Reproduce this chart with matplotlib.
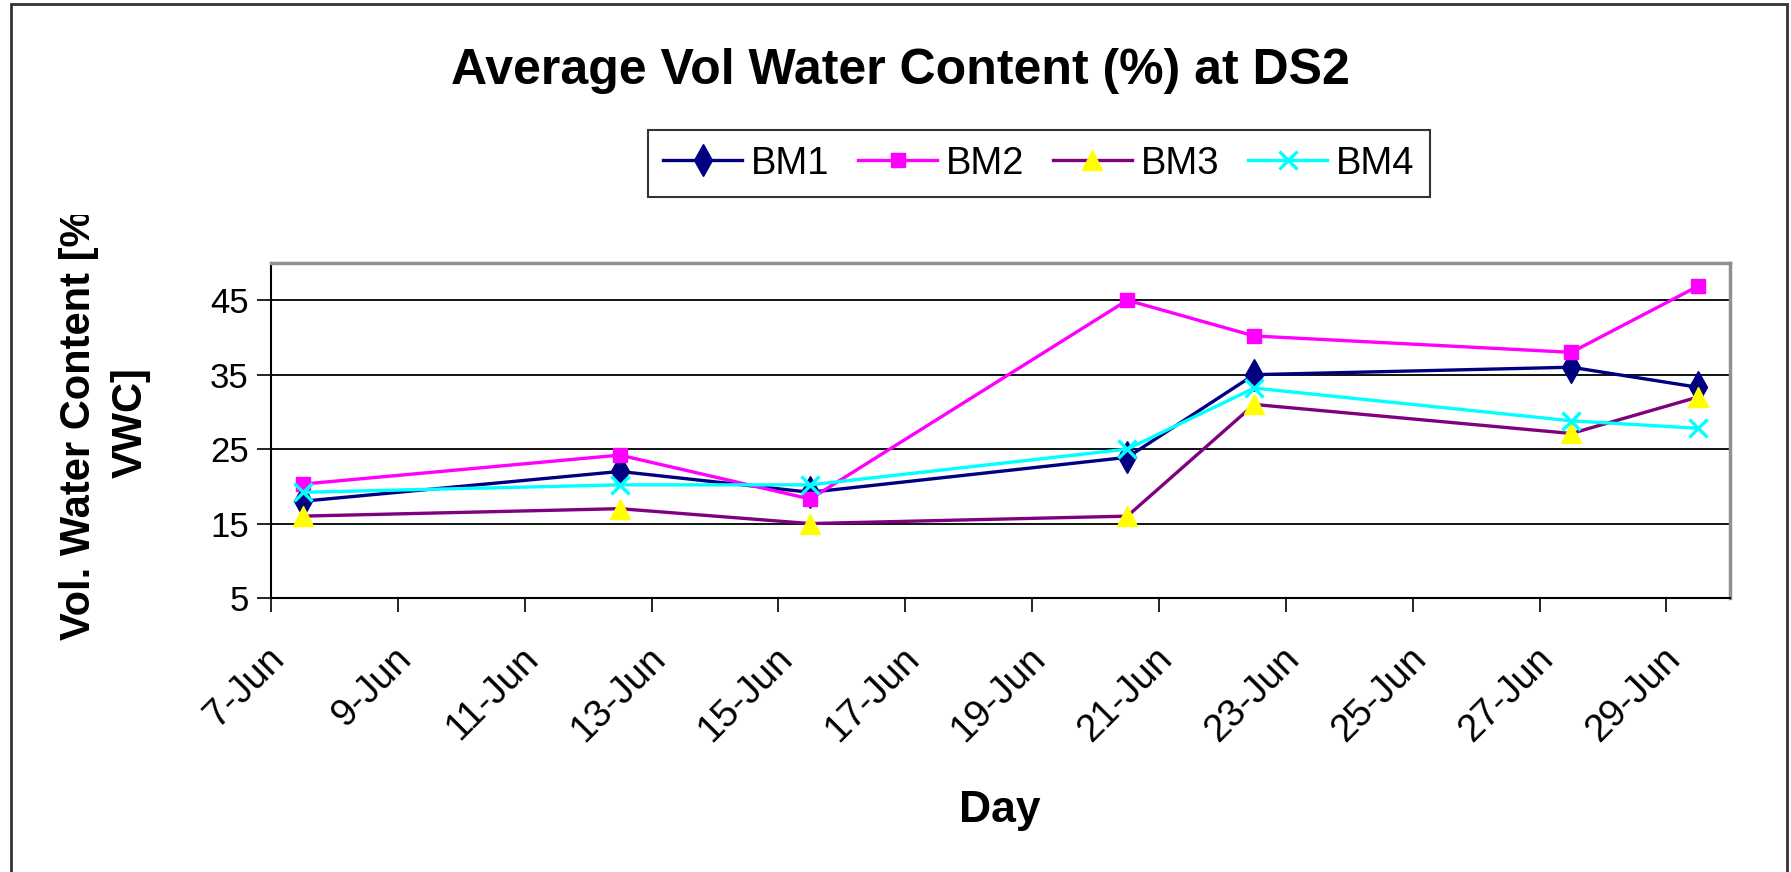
"""Average volumetric water content at DS2 — Excel-style line chart."""
import matplotlib
matplotlib.use("Agg")
import matplotlib.pyplot as plt
import matplotlib.dates as mdates
import numpy as np
from matplotlib.patches import Rectangle
from matplotlib.transforms import Bbox, ScaledTranslation

plt.rcParams["font.family"] = ["Liberation Sans", "DejaVu Sans"]

# data ----------------------------------------------------------------------
days = np.array(["2006-06-07", "2006-06-12", "2006-06-15", "2006-06-20",
                 "2006-06-22", "2006-06-27", "2006-06-29"], dtype="datetime64[D]")
bm1 = [18, 22, 19.2, 23.9, 35, 36, 33.3]
bm2 = [20.3, 24.2, 18.3, 45, 40.2, 38, 46.9]
bm3 = [16, 17, 15, 16, 31, 27.1, 32]
bm4 = [19.2, 20.2, 20.2, 25, 33.2, 28.8, 27.8]
tick_days = np.arange(np.datetime64("2006-06-07"), np.datetime64("2006-06-30"), 2)

# Excel date axis puts points in the middle of each day slot
x = mdates.date2num(days.astype("datetime64[s]")) + 0.5

fig = plt.figure(figsize=(17.91, 8.72), dpi=100)
ax = fig.add_axes([0.1513, 0.3142, 0.8146, 0.3842])

ax.plot(x, bm1, color="#000080", lw=2.4, marker="d", ms=16, mfc="#000080",
        mec="#000080", label="BM1")
ax.plot(x, bm2, color="#FF00FF", lw=2.4, marker="s", ms=10, mfc="#FF00FF",
        mec="#FF00FF", label="BM2")
ax.plot(x, bm3, color="#800080", lw=2.4, marker="^", ms=14, mfc="#FFFF00",
        mec="#FFFF00", label="BM3")
ax.plot(x, bm4, color="#00FFFF", lw=2.4, marker="x", ms=13, mew=2.4,
        label="BM4")

ax.set_xlim(mdates.date2num(np.datetime64("2006-06-07", "s")),
            mdates.date2num(np.datetime64("2006-06-30", "s")))
ax.set_ylim(5, 50)
ax.set_yticks([5, 15, 25, 35, 45])
ax.set_xticks(mdates.date2num(tick_days.astype("datetime64[s]")))
ax.xaxis.set_major_formatter(mdates.DateFormatter("%-d-%b"))

ax.grid(axis="y", color="black", lw=1.3)
ax.set_axisbelow(True)
ax.tick_params(axis="both", direction="out", length=10, width=1.2,
               labelsize=25, colors="black")
ax.tick_params(axis="y", pad=6)
ax.tick_params(axis="x", labelsize=27.5, pad=30)
shift = ScaledTranslation(0.08, 0, fig.dpi_scale_trans)
for lab in ax.get_xticklabels():
    lab.set_rotation(45)
    lab.set_rotation_mode("anchor")
    lab.set_ha("right")
    lab.set_va("center")
    lab.set_transform(lab.get_transform() + shift)

for side in ("top", "right"):
    ax.spines[side].set_color("#909090")
    ax.spines[side].set_linewidth(2.5)
for side in ("left", "bottom"):
    ax.spines[side].set_color("black")
    ax.spines[side].set_linewidth(1.5)

fig.text(0.5025, 0.919, "Average Vol Water Content (%) at DS2",
         ha="center", va="center", fontsize=36, fontweight="bold")
fig.text(0.558, 0.071, "Day", ha="center", va="center",
         fontsize=32, fontweight="bold")

# y label: two lines, the first one clipped at the top like in the original
ylab1 = fig.text(0.0441, 0.266, "Vol. Water Content [%", rotation=90,
                 rotation_mode="anchor", ha="left", va="center",
                 fontsize=30, fontweight="bold")
ylab1.set_clip_box(Bbox.from_extents(0, 0, 1791, 872 - 215))
ylab1.set_clip_on(True)
fig.text(0.0731, 0.515, "VWC]", rotation=90, ha="center", va="center",
         fontsize=30, fontweight="bold")

leg = fig.legend(loc="center", bbox_to_anchor=(0.5802, 0.8125), ncol=4,
                 fontsize=27.5, frameon=True, fancybox=False, edgecolor="black",
                 handlelength=2.05, handletextpad=0.25, columnspacing=0.75,
                 borderpad=0.4)
leg.get_frame().set_linewidth(1.5)

# outer chart border
fig.patches.append(Rectangle((11 / 1791, -0.05), 1776 / 1791, 1.045,
                             transform=fig.transFigure, fill=False,
                             edgecolor="#333333", lw=2))

fig.savefig("out.png", dpi=100)
